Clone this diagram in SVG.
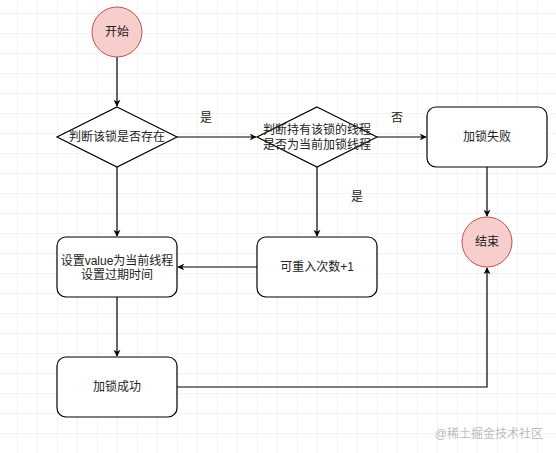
<svg xmlns="http://www.w3.org/2000/svg" width="556" height="453" viewBox="0 0 556 453">
<defs>
<pattern id="grid" x="17" y="13" width="20" height="20" patternUnits="userSpaceOnUse">
<path d="M0 0H20M0 0V20" fill="none" stroke="#e8e8e8" stroke-width="1"/>
</pattern>
<marker id="arr" viewBox="0 0 10 10" refX="9" refY="5" markerWidth="7" markerHeight="7" orient="auto" markerUnits="userSpaceOnUse">
<path d="M0 0L10 5L0 10L3 5Z" fill="#000"/>
</marker>
<style>
.box{fill:#fff;stroke:#000;stroke-width:1.2}
.term{fill:#f8cecc;stroke:#b85450;stroke-width:1}
.t{font-family:"Liberation Sans","Noto Sans CJK SC",sans-serif;font-size:12px;fill:#222;text-anchor:middle;dominant-baseline:central}
.c{fill:none;stroke:#000;stroke-width:1.2}
</style>
</defs>
<rect width="556" height="453" fill="#fff"/>
<rect width="556" height="453" fill="url(#grid)"/>
<g id="connectors">
<path class="c" d="M117 57V106" marker-end="url(#arr)"/>
<path class="c" d="M177 137H256" marker-end="url(#arr)"/>
<path class="c" d="M377 137H426" marker-end="url(#arr)"/>
<path class="c" d="M487 167V216" marker-end="url(#arr)"/>
<path class="c" d="M317 167V236" marker-end="url(#arr)"/>
<path class="c" d="M257 267H178" marker-end="url(#arr)"/>
<path class="c" d="M117 167V236" marker-end="url(#arr)"/>
<path class="c" d="M117 297V356" marker-end="url(#arr)"/>
<path class="c" d="M177 387H487V268" marker-end="url(#arr)"/>
<text class="t" x="206" y="118">是</text>
<text class="t" x="397" y="118">否</text>
<text class="t" x="357" y="197">是</text>
</g>
<g id="start">
<circle class="term" cx="117" cy="32" r="25"/>
<text class="t" x="117" y="32">开始</text>
</g>
<g id="check-exists">
<path class="box" d="M117 107L177 137L117 167L57 137Z"/>
<text class="t" x="117" y="137">判断该锁是否存在</text>
</g>
<g id="check-owner">
<path class="box" d="M317 107L377 137L317 167L257 137Z"/>
<text class="t" x="317" y="130">判断持有该锁的线程</text>
<text class="t" x="317" y="145">是否为当前加锁线程</text>
</g>
<g id="lock-fail">
<rect class="box" x="427" y="107" width="120" height="60" rx="9"/>
<text class="t" x="487" y="137">加锁失败</text>
</g>
<g id="end">
<circle class="term" cx="487" cy="242" r="25"/>
<text class="t" x="487" y="242">结束</text>
</g>
<g id="reentrant">
<rect class="box" x="257" y="237" width="120" height="60" rx="9"/>
<text class="t" x="317" y="267">可重入次数+1</text>
</g>
<g id="set-value">
<rect class="box" x="57" y="237" width="120" height="60" rx="9"/>
<text class="t" x="117" y="261">设置value为当前线程</text>
<text class="t" x="117" y="275">设置过期时间</text>
</g>
<g id="lock-success">
<rect class="box" x="57" y="357" width="120" height="60" rx="9"/>
<text class="t" x="117" y="387">加锁成功</text>
</g>
<text x="543" y="434" font-family="Liberation Sans,Noto Sans CJK SC,sans-serif" font-size="12" fill="#bbb" text-anchor="end" dominant-baseline="central">@稀土掘金技术社区</text>
</svg>
